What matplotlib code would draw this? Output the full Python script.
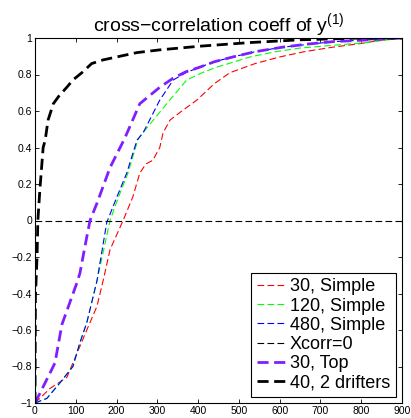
import matplotlib
matplotlib.use("Agg")
import matplotlib.pyplot as plt

# Data
red_x = [0, 37, 78, 110, 127, 152, 167, 184, 216, 240, 257, 272, 289, 306, 314, 331, 360, 397, 440, 478, 540, 600, 660, 731, 800, 853, 900]
red_y = [-1, -0.92, -0.86, -0.69, -0.6, -0.47, -0.33, -0.16, 0.0, 0.13, 0.26, 0.31, 0.33, 0.40, 0.48, 0.55, 0.60, 0.66, 0.75, 0.81, 0.86, 0.896, 0.925, 0.95, 0.97, 0.99, 1.0]

green_x = [0, 29, 61, 93, 110, 127, 152, 184, 205, 228, 252, 257, 290, 323, 372, 410, 445, 490, 527, 590, 650, 730, 813, 900]
green_y = [-1, -0.975, -0.89, -0.8, -0.67, -0.56, -0.33, 0.0, 0.13, 0.26, 0.44, 0.46, 0.55, 0.64, 0.77, 0.81, 0.84, 0.87, 0.896, 0.925, 0.945, 0.96, 0.975, 1.0]

blue_x = [0, 29, 61, 93, 110, 127, 152, 176, 201, 225, 250, 265, 306, 339, 370, 404, 440, 485, 540, 608, 670, 731, 820, 900]
blue_y = [-1, -0.975, -0.89, -0.8, -0.67, -0.56, -0.33, -0.01, 0.13, 0.26, 0.44, 0.48, 0.66, 0.77, 0.81, 0.84, 0.87, 0.896, 0.925, 0.95, 0.965, 0.98, 0.99, 1.0]

zero_x = [0, 900]
zero_y = [0, 0]

top_x = [0, 37, 49, 66, 103, 110, 127, 135, 152, 184, 220, 257, 306, 339, 370, 404, 440, 485, 540, 608, 670, 731, 820, 900]
top_y = [-1, -0.835, -0.78, -0.57, -0.34, -0.29, -0.09, 0.0, 0.095, 0.29, 0.45, 0.64, 0.73, 0.78, 0.815, 0.84, 0.87, 0.896, 0.925, 0.95, 0.967, 0.98, 0.99, 1.0]

drift_x = [0, 1, 5, 7, 12, 20, 25, 32, 45, 58, 78, 93, 115, 139, 167, 200, 250, 306, 404, 527, 650, 800, 900]
drift_y = [-1, -0.42, -0.2, 0.0, 0.17, 0.40, 0.44, 0.55, 0.64, 0.68, 0.73, 0.77, 0.81, 0.86, 0.88, 0.896, 0.92, 0.935, 0.955, 0.975, 0.99, 1.0, 1.0]

labels = ["30, Simple", "120, Simple", "480, Simple", "Xcorr=0", "30, Top", "40, 2 drifters"]
xticks = [0, 100, 200, 300, 400, 500, 600, 700, 800, 900]
yticks = [-1, -0.8, -0.6, -0.4, -0.2, 0, 0.2, 0.4, 0.6, 0.8, 1]
ytick_labels = ["\u22121", "\u22120.8", "\u22120.6", "\u22120.4", "\u22120.2", "0", "0.2", "0.4", "0.6", "0.8", "1"]

plt.rcParams['font.family'] = ['Liberation Sans', 'DejaVu Sans']
plt.rcParams['mathtext.default'] = 'regular'
fig = plt.figure(figsize=(4.11, 4.18), dpi=100)
ax = fig.add_axes([35/411, 15/418, 367/411, 365/418])

thin = dict(lw=0.8, dashes=(6, 3))
thick = dict(lw=2.0, dashes=(4, 2))
ax.plot(red_x, red_y, color='#ff0000', label=labels[0], **thin)
ax.plot(green_x, green_y, color='#00ff00', label=labels[1], **thin)
ax.plot(blue_x, blue_y, color='#0000ff', label=labels[2], **thin)
ax.plot(zero_x, zero_y, color='black', label=labels[3], **thin)
ax.plot(top_x, top_y, color='#7f1fff', label=labels[4], **thick)
ax.plot(drift_x, drift_y, color='black', label=labels[5], **thick)

ax.set_xlim(0, 900)
ax.set_ylim(-1, 1)
ax.set_xticks(xticks)
ax.set_xticklabels([str(t) for t in xticks])
ax.set_yticks(yticks)
ax.set_yticklabels(ytick_labels)
ax.tick_params(direction='in', top=True, right=True, labelsize=7.5, length=3, width=0.6, pad=2)
for s in ax.spines.values():
    s.set_linewidth(0.8)
ax.set_title("cross\u2212correlation coeff of y$^{(1)}$", fontsize=14, pad=5)

leg = ax.legend(loc='lower right', fontsize=13, handlelength=1.7, handletextpad=0.15,
                labelspacing=0.12, borderpad=0.3, borderaxespad=0.35, fancybox=False,
                framealpha=1, edgecolor='black')
leg.get_frame().set_linewidth(0.8)

fig.savefig("out.png", dpi=100)
